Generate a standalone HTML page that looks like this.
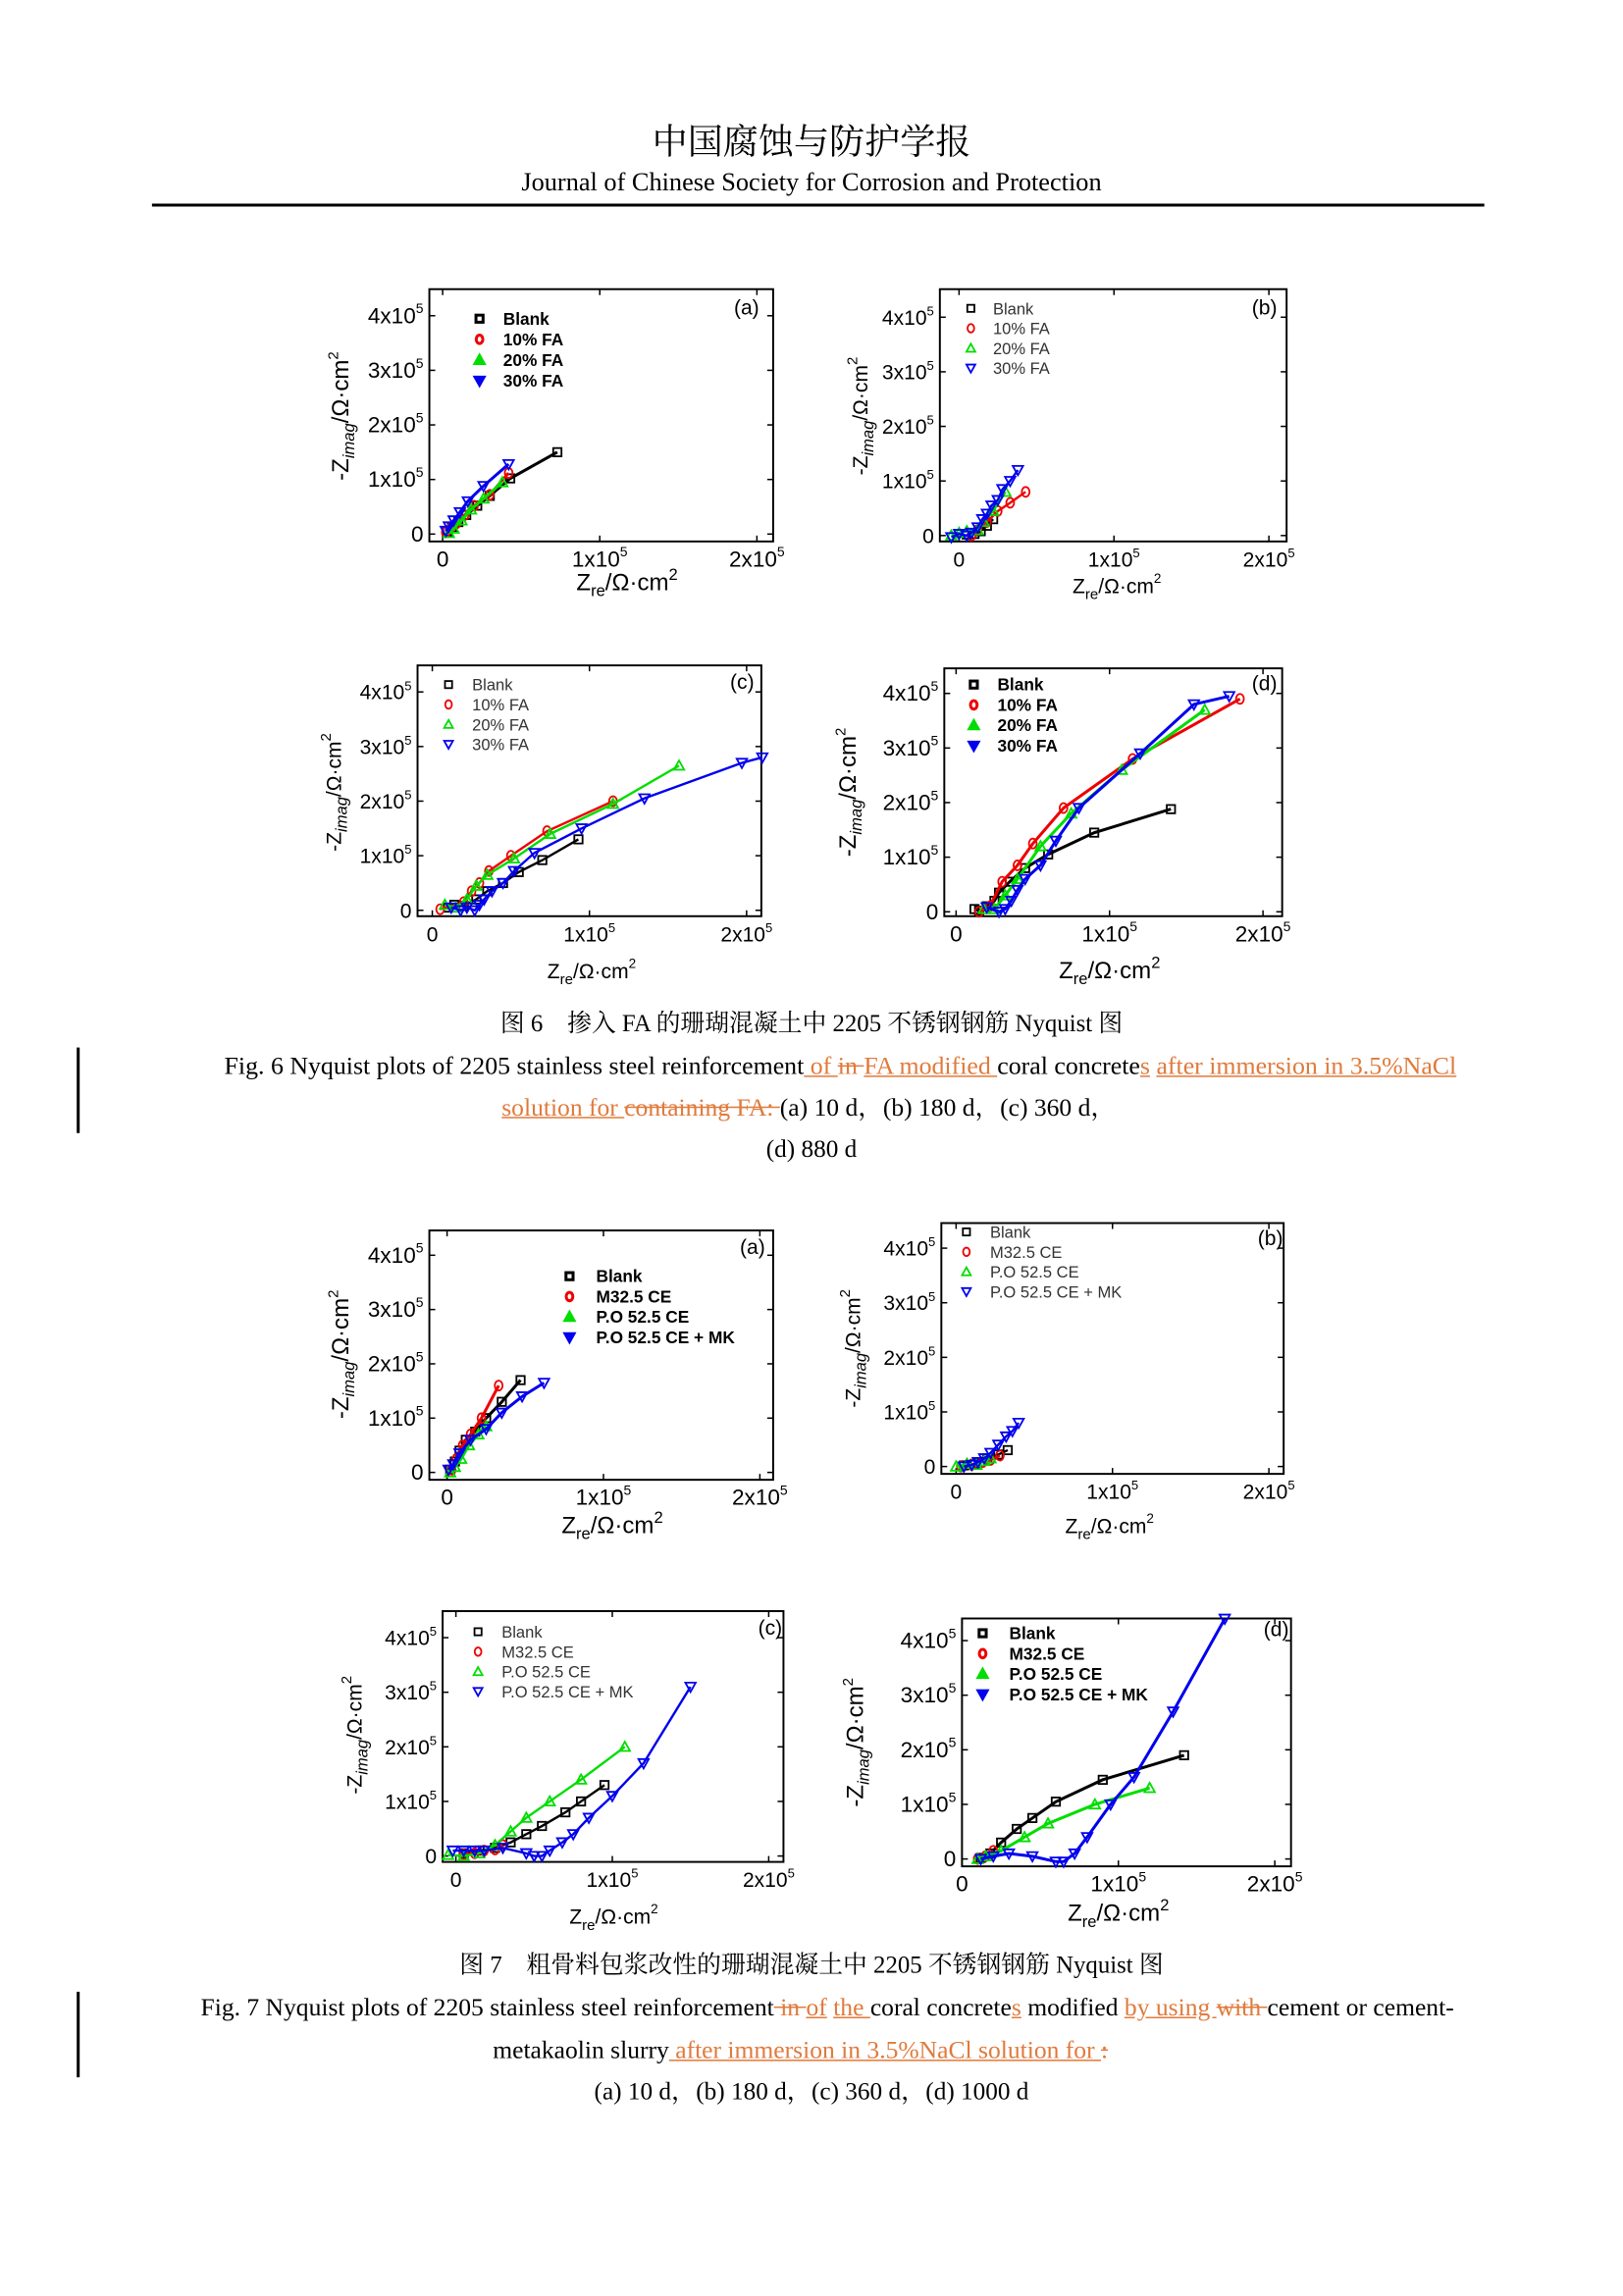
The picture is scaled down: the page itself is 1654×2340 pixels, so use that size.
<!DOCTYPE html>
<html><head><meta charset="utf-8">
<style>
html,body{margin:0;padding:0;background:#fff;}
#page{position:absolute;left:0;top:0;width:1100px;height:1556px;transform:scale(1.50364);transform-origin:0 0;background:#fff;overflow:hidden;}
.cap{position:absolute;left:0;width:1100px;text-align:center;font-family:"Liberation Serif","Noto Serif CJK SC",serif;font-size:16.8px;color:#000;white-space:nowrap;line-height:20px;}
.o{color:#e07a3c;text-decoration:underline;}
.s{color:#e07a3c;text-decoration:line-through;}
.bar{position:absolute;left:52px;width:2px;background:#000;}
svg text{font-family:"Liberation Sans",sans-serif;}
</style></head><body>
<div id="page">
<div class="cap" style="top:80px;font-size:24px;line-height:28px;font-family:'Noto Serif CJK SC',serif;">中国腐蚀与防护学报</div>
<div class="cap" style="top:113px;font-size:17.5px;">Journal of Chinese Society for Corrosion and Protection</div>
<div style="position:absolute;left:103px;top:138px;width:903px;height:2px;background:#000;"></div>

<svg id="charts" width="1100" height="1556" viewBox="0 0 1100 1556" style="position:absolute;left:0;top:0;"></svg>

<div class="cap" style="top:684px;font-size:16.5px;">图 6　掺入 FA 的珊瑚混凝土中 2205 不锈钢钢筋 Nyquist 图</div>
<div class="cap" style="top:713px;left:152px;width:auto;text-align:left;font-size:17.2px;">Fig. 6 Nyquist plots of 2205 stainless steel reinforcement<span class="o"> of </span> <span class="s">in </span><span class="o">FA modified </span>coral concrete<span class="o">s</span> <span class="o">after immersion in 3.5%NaCl</span></div>
<div class="cap" style="top:741px;left:340px;width:auto;text-align:left;font-size:17px;"><span class="o">solution for </span><span class="s">containing FA: </span>(a) 10 d，(b) 180 d，(c) 360 d，</div>
<div class="cap" style="top:769px;">(d) 880 d</div>
<div class="bar" style="top:710px;height:58px;"></div>

<div class="cap" style="top:1322px;font-size:16.5px;">图 7　粗骨料包浆改性的珊瑚混凝土中 2205 不锈钢钢筋 Nyquist 图</div>
<div class="cap" style="top:1351px;left:136px;width:auto;text-align:left;font-size:17px;">Fig. 7 Nyquist plots of 2205 stainless steel reinforcement<span class="s"> in </span><span class="o">of</span> <span class="o">the </span>coral concrete<span class="o">s</span> modified <span class="o">by using </span><span class="s">with </span>cement or cement-</div>
<div class="cap" style="top:1380px;left:334px;width:auto;text-align:left;font-size:17px;">metakaolin slurry<span class="o"> after immersion in 3.5%NaCl solution for </span><span class="s">: </span></div>
<div class="cap" style="top:1408px;">(a) 10 d，(b) 180 d，(c) 360 d，(d) 1000 d</div>
<div class="bar" style="top:1350px;height:58px;"></div>
</div>

<script>
// Data in units of 1e3 Ω·cm2 : [Zre, -Zimag]
const fig6a_blank=[[3,5],[6,12],[10,22],[15,35],[22,52],[30,70],[43,102],[73,150]];
const fig6a_fa10=[[2,3],[5,10],[9,20],[14,35],[20,52],[30,72],[42,112]];
const fig6a_fa20=[[4,2],[7,10],[12,25],[18,45],[26,65],[38,95]];
const fig6a_fa30=[[2,6],[4,14],[7,25],[11,40],[16,60],[26,88],[42,128]];

const fig6b_blank=[[5,2],[10,3],[14,8],[18,18],[22,30]];
const fig6b_fa10=[[8,0],[12,10],[18,25],[25,45],[33,60],[43,80]];
const fig6b_fa20=[[-5,0],[0,5],[5,8],[12,10],[16,25],[22,45],[30,80]];
const fig6b_fa30=[[-5,-3],[0,3],[5,0],[8,5],[12,15],[15,30],[18,40],[21,55],[25,65],[28,85],[33,100],[38,120]];

const fig6c_blank=[[10,5],[14,10],[20,8],[28,20],[35,35],[45,50],[55,70],[70,92],[93,130]];
const fig6c_fa10=[[5,2],[20,15],[25,35],[30,50],[36,72],[50,100],[73,145],[115,200]];
const fig6c_fa20=[[8,10],[15,5],[22,20],[28,45],[35,65],[52,95],[75,140],[115,195],[157,265]];
const fig6c_fa30=[[12,5],[18,0],[22,5],[27,0],[30,10],[33,20],[38,35],[45,50],[52,72],[65,105],[95,150],[135,205],[197,270],[210,280]];

const fig6d_blank=[[12,5],[15,2],[20,10],[25,20],[28,35],[35,55],[45,80],[60,105],[90,145],[140,188]];
const fig6d_fa10=[[15,0],[22,10],[30,55],[40,85],[50,125],[70,190],[115,280],[185,390]];
const fig6d_fa20=[[18,5],[25,5],[32,30],[40,60],[55,120],[75,180],[108,260],[162,370]];
const fig6d_fa30=[[20,8],[28,0],[32,5],[36,20],[40,40],[45,60],[55,85],[65,130],[80,190],[120,290],[155,380],[178,395]];

const fig7a_blank=[[2,5],[5,20],[8,40],[12,60],[18,75],[25,100],[35,130],[47,170]];
const fig7a_m325=[[3,5],[6,25],[10,50],[15,70],[22,100],[33,160]];
const fig7a_po525=[[2,0],[5,10],[9,25],[14,50],[20,70],[25,85]];
const fig7a_po525mk=[[1,5],[4,15],[8,35],[15,60],[25,80],[35,110],[48,140],[62,165]];

const fig7b_blank=[[5,2],[12,5],[20,15],[27,22],[33,30]];
const fig7b_m325=[[3,0],[10,3],[17,8],[22,12],[28,20]];
const fig7b_po525=[[0,0],[7,5],[13,3],[18,10],[22,15]];
const fig7b_po525mk=[[5,0],[10,3],[14,8],[18,15],[22,25],[27,40],[32,55],[36,65],[40,80]];

const fig7c_blank=[[5,5],[15,10],[25,15],[35,25],[45,40],[55,55],[70,80],[80,100],[95,130]];
const fig7c_m325=[[5,3],[12,5],[18,10],[25,12],[30,20]];
const fig7c_po525=[[-5,2],[5,0],[15,5],[25,20],[35,45],[45,70],[60,100],[80,140],[108,200]];
const fig7c_po525mk=[[-2,10],[5,10],[12,10],[18,10],[30,15],[45,5],[50,0],[55,0],[60,10],[68,25],[75,40],[85,70],[100,110],[120,170],[150,310]];

const fig7d_blank=[[12,2],[18,10],[25,30],[35,55],[45,75],[60,105],[90,145],[142,190]];
const fig7d_m325=[[10,0],[15,5],[20,15]];
const fig7d_po525=[[10,0],[15,5],[25,15],[40,40],[55,65],[85,100],[120,130]];
const fig7d_po525mk=[[12,0],[20,5],[30,10],[45,5],[60,-5],[65,-5],[72,10],[80,40],[95,100],[110,150],[135,270],[168,440]];

const legend6=["Blank","10% FA","20% FA","30% FA"];
const legend7=["Blank","M32.5 CE","P.O 52.5 CE","P.O 52.5 CE + MK"];
const yTickVals=[0,100,200,300,400];
const xTickVals=[0,100,200];

const NS="http://www.w3.org/2000/svg";
const svg=document.getElementById('charts');
const colors=["#000","#e00","#0d0","#00e"];
const markers=["square","circle","tri","itri"];

function mk(tag,attrs,parent){const e=document.createElementNS(NS,tag);for(const k in attrs)e.setAttribute(k,attrs[k]);(parent||svg).appendChild(e);return e;}

function marker(g,type,x,y,c,r,bold){
  let e;const sw=bold?2:1.2;
  if(type==="square")e=mk('rect',{x:x-r*0.8,y:y-r*0.8,width:r*1.6,height:r*1.6,fill:'none',stroke:c,'stroke-width':sw},g);
  else if(type==="circle")e=mk('ellipse',{cx:x,cy:y,rx:r*0.75,ry:r*0.95,fill:'none',stroke:c,'stroke-width':sw},g);
  else if(type==="tri")e=mk('polygon',{points:`${x},${y-r} ${x-r},${y+r*0.8} ${x+r},${y+r*0.8}`,fill:bold?c:'none',stroke:c,'stroke-width':sw},g);
  else e=mk('polygon',{points:`${x},${y+r} ${x-r},${y-r*0.8} ${x+r},${y-r*0.8}`,fill:bold?c:'none',stroke:c,'stroke-width':sw},g);
  return e;
}

function sup(t,base,exp,fs){
  t.textContent='';
  const a=document.createElementNS(NS,'tspan');a.textContent=base;t.appendChild(a);
  const b=document.createElementNS(NS,'tspan');b.textContent=exp;b.setAttribute('dy',-fs*0.45);b.setAttribute('font-size',fs*0.62);t.appendChild(b);
}

function chart(cfg){
  const g=mk('g',{});
  
  
  const xs=v=>cfg.x0+v/100*cfg.sx;
  const ys=v=>cfg.y0-v/100*cfg.sy;
  const box=mk('rect',{x:cfg.box[0],y:cfg.box[1],width:cfg.box[2]-cfg.box[0],height:cfg.box[3]-cfg.box[1],fill:'none',stroke:'#000','stroke-width':1.3},g);
  
  
  const fs=cfg.bold?15:14;
  yTickVals.forEach(v=>{
    const y=ys(v);
    mk('line',{x1:cfg.box[0],x2:cfg.box[0]+4,y1:y,y2:y,stroke:'#000','stroke-width':1},g);
    mk('line',{x1:cfg.box[2],x2:cfg.box[2]-4,y1:y,y2:y,stroke:'#000','stroke-width':1},g);
    const t=mk('text',{x:cfg.box[0]-4,y:y+5,'text-anchor':'end','font-size':fs},g);
    
    
    if(v===0)t.textContent='0';else sup(t,(v/100)+'x10','5',fs);
  });
  xTickVals.forEach(v=>{
    const x=xs(v);
    mk('line',{x1:x,x2:x,y1:cfg.box[3],y2:cfg.box[3]-4,stroke:'#000','stroke-width':1},g);
    mk('line',{x1:x,x2:x,y1:cfg.box[1],y2:cfg.box[1]+4,stroke:'#000','stroke-width':1},g);
    const t=mk('text',{x:x,y:cfg.box[3]+17,'text-anchor':'middle','font-size':fs},g);
    
    
    if(v===0)t.textContent='0';else sup(t,(v/100)+'x10','5',fs);
  });
  const xt=mk('text',{x:cfg.xtitle[0],y:cfg.xtitle[1]+3,'text-anchor':'middle','font-size':cfg.bold?16:14,'font-family':cfg.bold?'Liberation Sans':'Liberation Serif'},g);
  
  
  xt.innerHTML=`Z<tspan font-size="${cfg.bold?11:10}" dy="4">re</tspan><tspan dy="-4">/Ω·cm</tspan><tspan font-size="${cfg.bold?11:9}" dy="-7">2</tspan>`;
  const yt=mk('text',{x:0,y:0,'text-anchor':'middle','font-size':cfg.bold?16:14,transform:`translate(${cfg.ytitle[0]},${cfg.ytitle[1]}) rotate(-90)`},g);
  
  
  yt.innerHTML=`-Z<tspan font-size="11" font-style="italic" dy="4">imag</tspan><tspan dy="-4">/Ω·cm</tspan><tspan font-size="10" dy="-7">2</tspan>`;
  const pl=mk('text',{x:cfg.label[0],y:cfg.label[1],'text-anchor':'middle','font-size':14},g);
  pl.textContent=cfg.labelText;
  
  
  cfg.series.forEach((s,i)=>{
    const sg=mk('g',{},g);
    
    
    const pts=s.map(p=>xs(p[0]).toFixed(1)+','+ys(p[1]).toFixed(1)).join(' ');
    const pl2=mk('polyline',{points:pts,fill:'none',stroke:colors[i],'stroke-width':cfg.bold?2:1.6},sg);
    
    
    s.forEach(p=>{
      const m=marker(sg,markers[i],xs(p[0]),ys(p[1]),colors[i],3.5,false);
      
      
    });
  });
  const lg=mk('g',{},g);
  
  
  cfg.legend.forEach((l,i)=>{
    const y=cfg.leg[1]+i*cfg.leg[3];
    const m=marker(lg,markers[i],cfg.leg[0],y-4,colors[i],3,cfg.bold);
    
    
    const t=mk('text',{x:cfg.leg[2],y:y,'font-size':cfg.bold?11.5:11,'font-weight':cfg.bold?'bold':'normal',fill:cfg.bold?'#000':'#333'},lg);
    t.textContent=l;
    
    
  });
}

chart({name:'fig6a-chart',box:[291,196,524,367],x0:300,sx:106.5,y0:362,sy:37,bold:true,xtitle:[425,397],ytitle:[236,282],label:[506,213],labelText:'(a)',legend:legend6,leg:[325,220,341,14],series:[fig6a_blank,fig6a_fa10,fig6a_fa20,fig6a_fa30]});
chart({name:'fig6b-chart',box:[637,196,872,367],x0:650,sx:105,y0:363,sy:37,bold:false,xtitle:[757,399],ytitle:[588,282],label:[857,213],labelText:'(b)',legend:legend6,leg:[658,213,673,13.5],series:[fig6b_blank,fig6b_fa10,fig6b_fa20,fig6b_fa30]});
chart({name:'fig6c-chart',box:[283,451,516,621],x0:293,sx:106.5,y0:617,sy:37,bold:false,xtitle:[401,660],ytitle:[231,537],label:[503,467],labelText:'(c)',legend:legend6,leg:[304,468,320,13.5],series:[fig6c_blank,fig6c_fa10,fig6c_fa20,fig6c_fa30]});
chart({name:'fig6d-chart',box:[640,453,869,621],x0:648,sx:104,y0:618,sy:37,bold:true,xtitle:[752,660],ytitle:[580,537],label:[857,468],labelText:'(d)',legend:legend6,leg:[660,468,676,13.8],series:[fig6d_blank,fig6d_fa10,fig6d_fa20,fig6d_fa30]});

chart({name:'fig7a-chart',box:[291,834,524,1003],x0:303,sx:106,y0:998,sy:36.8,bold:true,xtitle:[415,1036],ytitle:[236,918],label:[510,850],labelText:'(a)',legend:legend7,leg:[386,869,404,13.8],series:[fig7a_blank,fig7a_m325,fig7a_po525,fig7a_po525mk]});
chart({name:'fig7b-chart',box:[638,829,870,999],x0:648,sx:106,y0:994,sy:37,bold:false,xtitle:[752,1036],ytitle:[583,914],label:[861,844],labelText:'(b)',legend:legend7,leg:[655,839,671,13.5],series:[fig7b_blank,fig7b_m325,fig7b_po525,fig7b_po525mk]});
chart({name:'fig7c-chart',box:[300,1092,531,1262],x0:309,sx:106,y0:1258,sy:37,bold:false,xtitle:[416,1301],ytitle:[245,1176],label:[522,1108],labelText:'(c)',legend:legend7,leg:[324,1110,340,13.5],series:[fig7c_blank,fig7c_m325,fig7c_po525,fig7c_po525mk]});
chart({name:'fig7d-chart',box:[652,1097,875,1265],x0:652,sx:106,y0:1260,sy:37,bold:true,xtitle:[758,1299],ytitle:[585,1181],label:[865,1109],labelText:'(d)',legend:legend7,leg:[666,1111,684,13.8],series:[fig7d_blank,fig7d_m325,fig7d_po525,fig7d_po525mk]});
</script>
</body></html>
